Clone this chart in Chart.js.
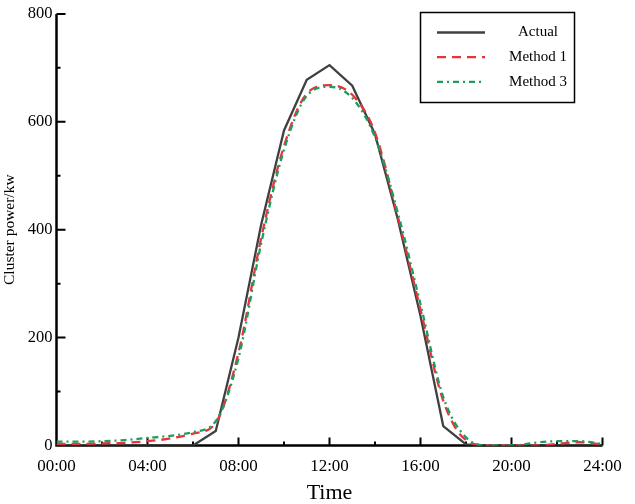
<!DOCTYPE html>
<html>
<head>
<meta charset="utf-8">
<script src="https://cdn.jsdelivr.net/npm/chart.js@4"></script>
<style>
  body { margin: 0; background: #fff; }
  #wrap { width: 635px; height: 504px; }
</style>
</head>
<body>
<div id="wrap"><canvas id="powerChart" width="635" height="504"></canvas></div>
<script>
// Hourly values
const hours = [0, 1, 2, 3, 4, 5, 6, 7, 8, 9, 10, 11, 12, 13, 14, 15, 16, 17, 18, 19, 20, 21, 22, 23, 24];
const actual = [0, 0, 0, 0, 0, 0, 0, 27, 200, 410, 584, 678, 705, 667, 577, 420, 240, 36, 2, 0, 0, 0, 0, 0, 0];
const method1 = [3, 3, 4, 5, 8, 13, 22, 42, 172, 385, 555, 652, 668, 650, 580, 425, 252, 83, 10, 0, 0, 0, 3, 6, 2];
const method3 = [7, 7, 8, 10, 14, 18, 25, 45, 162, 375, 548, 648, 665, 644, 571, 432, 262, 90, 15, 0, 0, 5, 8, 8, 3];
const seriesNames = ['Actual', 'Method 1', 'Method 3'];

const serif = "'Liberation Serif', 'DejaVu Serif', serif";

function toPoints(values) {
    return hours.map((h, i) => ({ x: h, y: values[i] }));
}

// Axis lines with inward ticks
const axesPlugin = {
    id: 'axes',
    beforeDatasetsDraw(chart) {
        const ctx = chart.ctx;
        const x = chart.scales.x;
        const y = chart.scales.y;
        const area = chart.chartArea;
        ctx.save();
        ctx.strokeStyle = '#000';
        ctx.lineWidth = 2.5;
        ctx.beginPath();
        ctx.moveTo(area.left, area.top);
        ctx.lineTo(area.left, area.bottom);
        ctx.lineTo(area.right, area.bottom);
        ctx.stroke();

        ctx.lineWidth = 2;
        ctx.beginPath();
        for (let h = 2; h <= 24; h += 2) {
            const px = x.getPixelForValue(h);
            const len = h % 4 === 0 ? 8 : 4;
            ctx.moveTo(px, area.bottom);
            ctx.lineTo(px, area.bottom - len);
        }
        for (let v = 100; v <= 800; v += 100) {
            const py = y.getPixelForValue(v);
            const len = v % 200 === 0 ? 9 : 4;
            ctx.moveTo(area.left, py);
            ctx.lineTo(area.left + len, py);
        }
        ctx.stroke();
        ctx.restore();
    }
};

// Boxed legend inside the plot
const boxLegend = {
    id: 'boxLegend',
    afterDraw(chart) {
        const ctx = chart.ctx;
        ctx.save();
        ctx.strokeStyle = '#000';
        ctx.lineWidth = 1.5;
        ctx.strokeRect(420.5, 12.5, 154, 90);
        chart.data.datasets.forEach((ds, i) => {
            const rowY = 32.5 + i * 24.7;
            ctx.strokeStyle = ds.borderColor;
            ctx.lineWidth = ds.borderWidth;
            ctx.setLineDash(ds.borderDash || []);
            ctx.beginPath();
            ctx.moveTo(437, rowY);
            ctx.lineTo(485, rowY);
            ctx.stroke();
            ctx.setLineDash([]);
            ctx.fillStyle = '#000';
            ctx.font = '15px ' + serif;
            ctx.textAlign = 'center';
            ctx.textBaseline = 'middle';
            ctx.fillText(ds.label, 538, rowY);
        });
        ctx.restore();
    }
};

const ctx = document.getElementById('powerChart').getContext('2d');
new Chart(ctx, {
    type: 'line',
    data: {
        datasets: [
            {
                label: seriesNames[0],
                data: toPoints(actual),
                borderColor: '#404040',
                borderWidth: 2.3,
                pointRadius: 0,
                tension: 0,
                order: 3
            },
            {
                label: seriesNames[1],
                data: toPoints(method1),
                borderColor: '#e8333c',
                borderWidth: 2.3,
                borderDash: [9, 6],
                pointRadius: 0,
                cubicInterpolationMode: 'monotone',
                order: 2
            },
            {
                label: seriesNames[2],
                data: toPoints(method3),
                borderColor: '#1e9e5c',
                borderWidth: 2.3,
                borderDash: [6, 4, 2, 4],
                pointRadius: 0,
                cubicInterpolationMode: 'monotone',
                order: 1
            }
        ]
    },
    options: {
        responsive: false,
        animation: false,
        layout: {
            padding: { left: 0, right: 32.5, top: 6, bottom: 0 }
        },
        plugins: {
            legend: { display: false },
            tooltip: { enabled: false }
        },
        scales: {
            x: {
                type: 'linear',
                min: 0,
                max: 24,
                grid: { display: false, drawTicks: false },
                border: { display: false },
                ticks: {
                    stepSize: 4,
                    padding: 11,
                    color: '#000',
                    font: { family: serif, size: 17 },
                    maxRotation: 0,
                    callback: function(value) {
                        return (value < 10 ? '0' : '') + value + ':00';
                    }
                },
                title: {
                    display: true,
                    text: 'Time',
                    color: '#000',
                    font: { family: serif, size: 22, lineHeight: 1 },
                    padding: { top: 0, bottom: 0 }
                },
                afterFit: function(scale) {
                    scale.height = 58.5;
                }
            },
            y: {
                min: 0,
                max: 800,
                grid: { display: false, drawTicks: false },
                border: { display: false },
                ticks: {
                    stepSize: 200,
                    padding: 4,
                    color: '#000',
                    font: { family: serif, size: 16.5 }
                },
                title: {
                    display: true,
                    text: 'Cluster power/kw',
                    color: '#000',
                    font: { family: serif, size: 15.5, lineHeight: 1.2 },
                    padding: { top: 1, bottom: 0 }
                },
                afterFit: function(scale) {
                    scale.width = 56.5;
                }
            }
        }
    },
    plugins: [axesPlugin, boxLegend]
});
</script>
</body>
</html>
